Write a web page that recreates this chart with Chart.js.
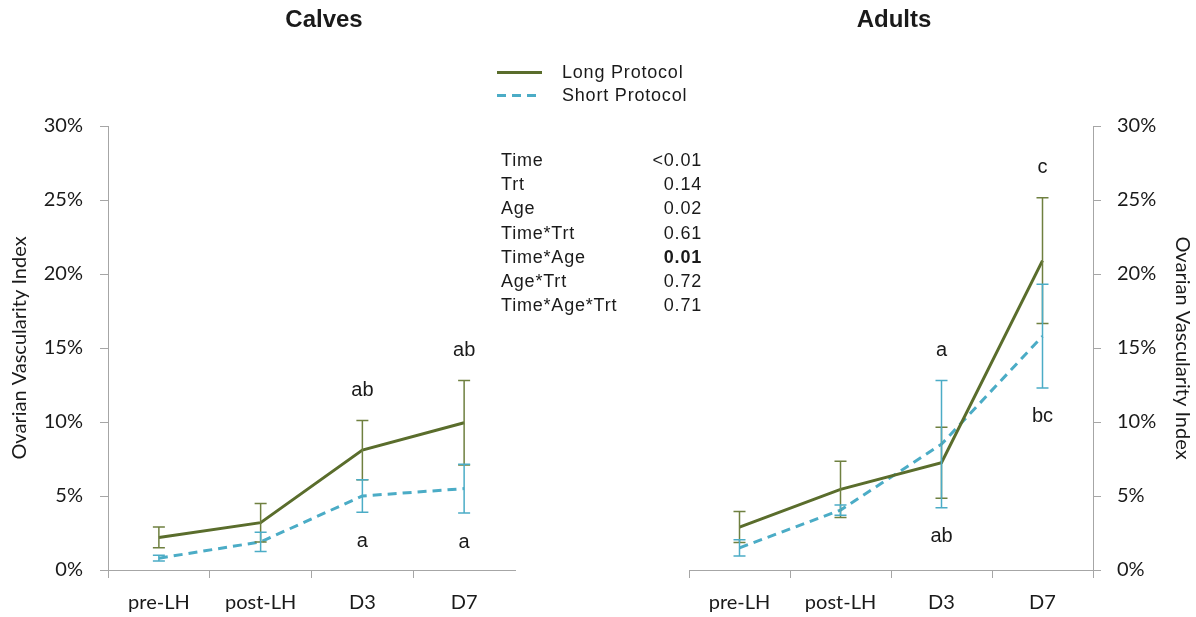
<!DOCTYPE html>
<html>
<head>
<meta charset="utf-8">
<title>Ovarian Vascularity Index</title>
<script src="https://cdn.jsdelivr.net/npm/chart.js@4.4.1/dist/chart.umd.min.js"></script>
<style>
  body { margin: 0; background: #fff; width: 1196px; height: 617px; overflow: hidden; position: relative;
         font-family: "Liberation Sans", Arial, sans-serif; color: #1a1a1a; }
  canvas { position: absolute; top: 0; }
  #calves { left: 0; }
  #adults { left: 640px; }
  .panel-title { position: absolute; top: 5px; font-weight: bold; font-size: 24px; transform: translateX(-50%); }
  #legend { position: absolute; left: 497px; top: 61px; font-size: 18px; letter-spacing: 0.8px; }
  #legend .row { height: 23px; display: flex; align-items: center; }
  #legend .swatch { width: 45px; height: 3px; margin-right: 20px; }
  #stats { position: absolute; left: 501px; top: 148px; font-size: 18px; letter-spacing: 0.8px; border-collapse: collapse; }
  #stats td { padding: 0; height: 24.2px; line-height: 24.2px; }
  #stats td.val { text-align: right; width: 70px; }
  #stats td.term { width: 131px; }
</style>
</head>
<body>
<canvas id="calves" width="540" height="617"></canvas>
<canvas id="adults" width="556" height="617"></canvas>
<div class="panel-title" style="left:324px">Calves</div>
<div class="panel-title" style="left:894px">Adults</div>
<div id="legend"></div>
<table id="stats"></table>
<script>
// sampling days
const TIMES = ['pre-LH', 'post-LH', 'D3', 'D7'];

// calves, mean and SEM (%)
const CALVES_LONG = [2.2, 3.2, 8.1, 9.95];
const CALVES_LONG_ERR = [0.7, 1.3, 2.0, 2.85];
const CALVES_SHORT = [0.8, 1.9, 5.0, 5.5];
const CALVES_SHORT_ERR = [0.2, 0.65, 1.1, 1.65];

// adults, mean and SEM (%)
const ADULTS_LONG = [2.9, 5.45, 7.25, 20.9];
const ADULTS_LONG_ERR = [1.05, 1.9, 2.4, 4.25];
const ADULTS_SHORT = [1.5, 4.05, 8.5, 15.8];
const ADULTS_SHORT_ERR = [0.55, 0.35, 4.3, 3.5];

// significance letters above / below each day
const CALVES_TOP = ['', '', 'ab', 'ab'];
const CALVES_BOTTOM = ['', '', 'a', 'a'];
const ADULTS_TOP = ['', '', 'a', 'c'];
const ADULTS_BOTTOM = ['', '', 'ab', 'bc'];

// y axis
const Y_MIN = 0;
const Y_MAX = 30;
const Y_STEP = 5;

// model effects
const STAT_TERMS = ['Time', 'Trt', 'Age', 'Time*Trt', 'Time*Age', 'Age*Trt', 'Time*Age*Trt'];
const STAT_PVALUES = ['<0.01', '0.14', '0.02', '0.61', '0.01', '0.72', '0.71'];
const STAT_BOLD = ['Time*Age'];

const SERIES_NAMES = ['Long Protocol', 'Short Protocol'];

const LONG_COLOR = '#5a6d2c';
const LONG_ERR_COLOR = '#6f8040';
const SHORT_COLOR = '#4bacc6';
const AXIS_COLOR = '#a6a6a6';
const TEXT_COLOR = '#1a1a1a';
const TICK_FONT = { family: 'Lato', size: 20 };

// legend
const LEGEND = document.getElementById('legend');
SERIES_NAMES.forEach((name, i) => {
  const ROW = document.createElement('div');
  ROW.className = 'row';
  const SW = document.createElement('div');
  SW.className = 'swatch';
  SW.style.background = i === 0 ? LONG_COLOR
    : `repeating-linear-gradient(90deg, ${SHORT_COLOR} 0 9px, transparent 9px 15px)`;
  ROW.appendChild(SW);
  ROW.appendChild(document.createTextNode(name));
  LEGEND.appendChild(ROW);
});

// p-value table
const STATS = document.getElementById('stats');
STAT_TERMS.forEach((term, i) => {
  const TR = document.createElement('tr');
  const TD1 = document.createElement('td');
  TD1.className = 'term';
  TD1.textContent = term;
  const TD2 = document.createElement('td');
  TD2.className = 'val';
  TD2.textContent = STAT_PVALUES[i];
  if (STAT_BOLD.includes(term)) TD2.style.fontWeight = 'bold';
  TR.appendChild(TD1);
  TR.appendChild(TD2);
  STATS.appendChild(TR);
});

// vertical error bars with caps
const ERROR_BARS = {
  id: 'errorBars',
  afterDatasetsDraw(chart) {
    const { ctx, scales: { x, y } } = chart;
    chart.data.datasets.forEach(ds => {
      ctx.save();
      ctx.strokeStyle = ds.errColor;
      ctx.lineWidth = 1.5;
      ds.data.forEach((v, i) => {
        const PX = x.getPixelForValue(i);
        const HI = y.getPixelForValue(v + ds.err[i]);
        const LO = y.getPixelForValue(v - ds.err[i]);
        ctx.beginPath();
        ctx.moveTo(PX, HI); ctx.lineTo(PX, LO);
        ctx.moveTo(PX - 6, HI); ctx.lineTo(PX + 6, HI);
        ctx.moveTo(PX - 6, LO); ctx.lineTo(PX + 6, LO);
        ctx.stroke();
      });
      ctx.restore();
    });
  }
};

// letters above the highest bar end and below the lowest one
const SIG_LETTERS = {
  id: 'sigLetters',
  afterDatasetsDraw(chart, args, opts) {
    const { ctx, scales: { x, y } } = chart;
    const SETS = chart.data.datasets;
    ctx.save();
    ctx.fillStyle = TEXT_COLOR;
    ctx.font = '20px "Liberation Sans", Arial, sans-serif';
    ctx.textAlign = 'center';
    ctx.textBaseline = 'middle';
    TIMES.forEach((t, i) => {
      const PX = x.getPixelForValue(i);
      const TOP = Math.max(...SETS.map(ds => ds.data[i] + ds.err[i]));
      const BOT = Math.min(...SETS.map(ds => ds.data[i] - ds.err[i]));
      if (opts.top[i]) ctx.fillText(opts.top[i], PX, y.getPixelForValue(TOP) - 30);
      if (opts.bottom[i]) ctx.fillText(opts.bottom[i], PX, y.getPixelForValue(BOT) + 29);
    });
    ctx.restore();
  }
};

function makePanel(id, long, longErr, short, shortErr, top, bottom, side) {
  const LEFT = side === 'left';
  return new Chart(document.getElementById(id), {
    type: 'line',
    data: {
      labels: TIMES,
      datasets: [{
        label: SERIES_NAMES[0],
        data: long,
        err: longErr,
        errColor: LONG_ERR_COLOR,
        borderColor: LONG_COLOR,
        borderWidth: 3,
        pointRadius: 0,
        tension: 0
      }, {
        label: SERIES_NAMES[1],
        data: short,
        err: shortErr,
        errColor: SHORT_COLOR,
        borderColor: SHORT_COLOR,
        borderWidth: 3,
        borderDash: [9, 6],
        pointRadius: 0,
        tension: 0
      }]
    },
    options: {
      responsive: false,
      animation: false,
      layout: { padding: LEFT ? { top: 126, right: 25, left: 0, bottom: 0 } : { top: 126, left: 49, right: 0, bottom: 0 } },
      plugins: {
        legend: { display: false },
        tooltip: { enabled: false },
        sigLetters: { top: top, bottom: bottom }
      },
      scales: {
        x: {
          offset: true,
          grid: {
            offset: true,
            drawOnChartArea: false,
            tickLength: 8,
            // the calves axis runs on past its last category with no end tick
            color: c => (LEFT && c.type !== 'tick') ? 'rgba(0,0,0,0)' : AXIS_COLOR
          },
          border: { color: AXIS_COLOR },
          ticks: { font: TICK_FONT, color: TEXT_COLOR, padding: 13, maxRotation: 0 },
          afterFit(s) { s.height = 47; }
        },
        y: {
          position: side,
          min: Y_MIN,
          max: Y_MAX,
          grid: { drawOnChartArea: false, tickLength: 8, color: AXIS_COLOR },
          border: { color: AXIS_COLOR },
          ticks: { stepSize: Y_STEP, font: TICK_FONT, color: TEXT_COLOR, padding: LEFT ? 17 : 16, callback: v => v + '%' },
          title: {
            display: true,
            text: 'Ovarian Vascularity Index',
            font: { family: 'Lato', size: 20 },
            color: TEXT_COLOR,
            padding: { top: LEFT ? 8 : 2, bottom: 0 }
          },
          afterFit(s) { s.width = LEFT ? 108 : 103; }
        }
      }
    },
    plugins: [ERROR_BARS, SIG_LETTERS]
  });
}

makePanel('calves', CALVES_LONG, CALVES_LONG_ERR, CALVES_SHORT, CALVES_SHORT_ERR, CALVES_TOP, CALVES_BOTTOM, 'left');
makePanel('adults', ADULTS_LONG, ADULTS_LONG_ERR, ADULTS_SHORT, ADULTS_SHORT_ERR, ADULTS_TOP, ADULTS_BOTTOM, 'right');
</script>
</body>
</html>
